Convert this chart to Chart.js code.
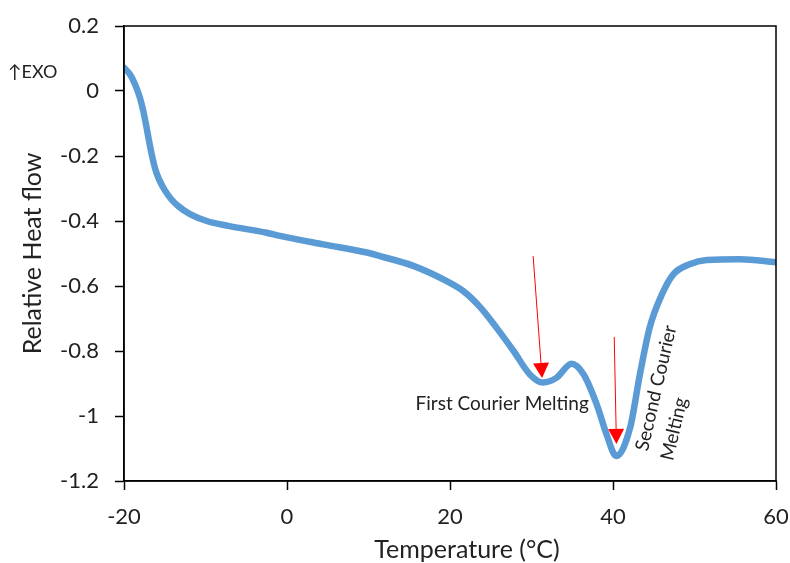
<!DOCTYPE html>
<html>
<head>
<meta charset="utf-8">
<script src="https://cdn.jsdelivr.net/npm/chart.js@4/dist/chart.umd.min.js"></script>
<style>
html,body{margin:0;padding:0;background:#fff;}
#wrap{width:790px;height:563px;position:relative;}
</style>
</head>
<body>
<div id="wrap"><canvas id="c" width="790" height="563"></canvas></div>
<script>
// ---- data ----
const temperature = [-20.0,-19.26,-18.65,-18.04,-17.63,-17.3,-17.0,-16.6,-16.2,-15.7,-15.0,-14.2,-13.3,-11.9,-9.85,-7.2,-2.5,-0.86,4.45,9.8,11.4,15.5,19.6,21.6,23.7,25.7,27.8,29.8,31.4,33.1,34.9,36.4,38.0,39.2,40.4,42.1,43.3,44.5,46.0,47.4,49.4,51.5,55.6,60.0];
const heatFlow = [0.072,0.051,0.021,-0.021,-0.062,-0.103,-0.144,-0.195,-0.237,-0.272,-0.305,-0.333,-0.355,-0.379,-0.400,-0.415,-0.436,-0.446,-0.472,-0.497,-0.508,-0.538,-0.585,-0.615,-0.665,-0.728,-0.800,-0.872,-0.897,-0.882,-0.839,-0.872,-0.964,-1.056,-1.123,-1.036,-0.872,-0.728,-0.626,-0.564,-0.533,-0.520,-0.518,-0.527];
const xTicks = [-20,0,20,40,60];
const xTickLabels = ['-20','0','20','40','60'];
const yTicks = [0.2,0,-0.2,-0.4,-0.6,-0.8,-1,-1.2];
const yTickLabels = ['0.2','0','-0.2','-0.4','-0.6','-0.8','-1','-1.2'];
const xTitle = 'Temperature (°C)';
const yTitle = 'Relative Heat flow';
// annotation arrows: [startT, startV, tipT, tipV]
const arrowFirst = [30.2,-0.508,31.3,-0.883];
const arrowSecond = [40.15,-0.757,40.42,-1.086];
const labelFirst = {text:'First Courier Melting', t:26.4, v:-0.963};
const labelSecond = [{text:'Second Courier', t:45.3, v:-0.914},{text:'Melting', t:47.5, v:-1.04}];

const FONT = 'Lato, "Open Sans", sans-serif';

const frame = {
  id:'frame',
  afterDraw(chart){
    const {ctx, chartArea:a, scales} = chart;
    const xs = scales.x, ys = scales.y;
    ctx.save();
    ctx.strokeStyle = '#000'; ctx.lineWidth = 1.5;
    ctx.strokeRect(a.left, a.top, a.right-a.left, a.bottom-a.top);
    const drawArrow = (ar)=>{
      const x1 = xs.getPixelForValue(ar[0]), y1 = ys.getPixelForValue(ar[1]);
      const x2 = xs.getPixelForValue(ar[2]), y2 = ys.getPixelForValue(ar[3]);
      const ang = Math.atan2(y2-y1, x2-x1);
      const hl = 15, hw = 8;
      const bx = x2 - hl*Math.cos(ang), by = y2 - hl*Math.sin(ang);
      ctx.strokeStyle = '#ff0000'; ctx.lineWidth = 1;
      ctx.beginPath(); ctx.moveTo(x1,y1); ctx.lineTo(bx,by); ctx.stroke();
      ctx.fillStyle = '#ff0000';
      ctx.beginPath();
      ctx.moveTo(x2,y2);
      ctx.lineTo(bx + hw*Math.sin(ang), by - hw*Math.cos(ang));
      ctx.lineTo(bx - hw*Math.sin(ang), by + hw*Math.cos(ang));
      ctx.closePath(); ctx.fill();
    };
    drawArrow(arrowFirst);
    drawArrow(arrowSecond);
    ctx.fillStyle = '#222';
    ctx.font = '19px ' + FONT;
    ctx.textAlign = 'center'; ctx.textBaseline = 'middle';
    ctx.fillText(labelFirst.text, xs.getPixelForValue(labelFirst.t), ys.getPixelForValue(labelFirst.v));
    labelSecond.forEach(l=>{
      ctx.save();
      ctx.translate(xs.getPixelForValue(l.t), ys.getPixelForValue(l.v));
      ctx.rotate(-77*Math.PI/180);
      ctx.fillText(l.text, 0, 0);
      ctx.restore();
    });
    // x axis title (slightly right of centre, as in the reference)
    ctx.font = '25px ' + FONT;
    ctx.fillText(xTitle, (a.left + a.right)/2 + 17, 550);
    ctx.font = '18px ' + FONT;
    ctx.textAlign = 'left';
    ctx.fillText('\u2191EXO', 8, 72);
    ctx.restore();
  }
};

new Chart(document.getElementById('c'), {
  type:'line',
  data:{
    datasets:[{
      data: temperature.map((t,i)=>({x:t, y:heatFlow[i]})),
      borderColor:'#5B9BD5',
      borderWidth:6.5,
      pointRadius:0,
      fill:false,
      cubicInterpolationMode:'monotone',
      borderCapStyle:'round',
      borderJoinStyle:'round'
    }]
  },
  options:{
    responsive:false,
    animation:false,
    layout:{padding:{left:0,right:14,top:26,bottom:0}},
    plugins:{legend:{display:false},tooltip:{enabled:false}},
    scales:{
      x:{
        type:'linear', min:-20, max:60,
        afterBuildTicks(s){ s.ticks = xTicks.map(v=>({value:v})); },
        afterFit(s){ s.height = 82; s.paddingLeft = 0; s.paddingRight = 0; },
        ticks:{ callback:(v,i)=>xTickLabels[i], color:'#222', font:{family:FONT,size:22}, padding:14, maxRotation:0 },
        grid:{ drawOnChartArea:false, drawTicks:true, tickLength:9, tickColor:'#000', tickWidth:1.5 },
        border:{ display:true, color:'#000', width:1.5 },
        title:{ display:false, text:xTitle }
      },
      y:{
        type:'linear', min:-1.2, max:0.2,
        afterBuildTicks(s){ s.ticks = yTicks.map(v=>({value:v})); },
        afterFit(s){ s.width = 124; s.paddingTop = 0; s.paddingBottom = 0; },
        ticks:{ callback:(v,i)=>yTickLabels[i], color:'#222', font:{family:FONT,size:22}, padding:16 },
        grid:{ drawOnChartArea:false, drawTicks:true, tickLength:9, tickColor:'#000', tickWidth:1.5 },
        border:{ display:true, color:'#000', width:1.5 },
        title:{ display:true, text:yTitle, color:'#222', font:{family:FONT,size:25,lineHeight:1}, padding:{top:20,bottom:0} }
      }
    }
  },
  plugins:[frame]
});
</script>
</body>
</html>
